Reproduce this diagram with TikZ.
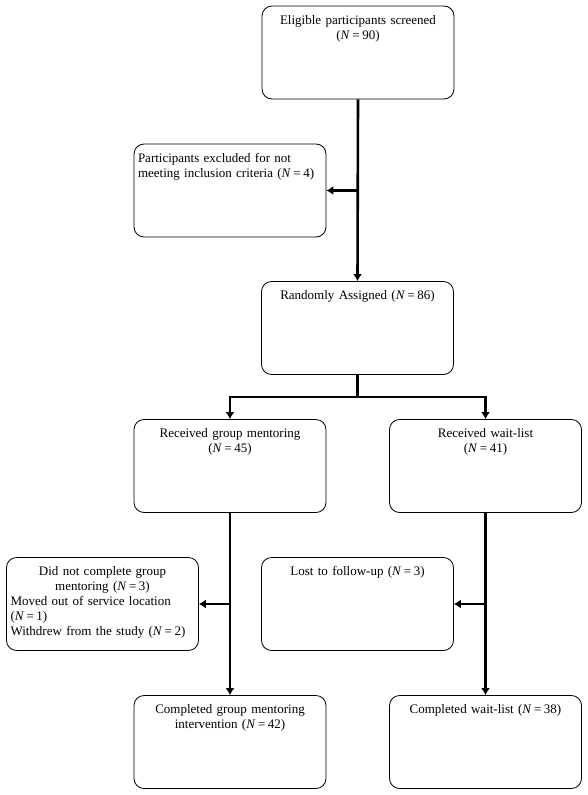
\documentclass[tikz,border=0pt]{standalone}
\usepackage{fontspec}
\setmainfont{Liberation Serif}
\usetikzlibrary{arrows.meta,positioning}

\tikzset{
  flowbox/.style={draw, line width=0.8pt, rounded corners=10pt, minimum width=192pt,
    minimum height=93pt, inner xsep=4pt, inner ysep=5pt, text width=184pt,
    text height=13pt, text depth=70pt, align=center,
    font=\fontsize{13}{15}\selectfont},
  leftbox/.style={flowbox, align=left},
  flow/.style={line width=2.6pt},
  flowarrow/.style={flow, -{Latex[length=7pt,width=9pt]}}
}

\begin{document}
\begin{tikzpicture}[x=1pt, y=-1pt]
\def\cnt#1{(\textit{N}\kern2.5pt=\kern2.5pt#1)}
\useasboundingbox (0,0) rectangle (588,795);

% boxes of the flow
\node [flowbox] (screened) at (358,52.5) {Eligible participants screened\\\cnt{90}};
\node [leftbox] (excluded) at (230,190.5) {Participants excluded for not\\meeting inclusion criteria \cnt{4}};
\node [flowbox] (assigned) at (357.5,328) {Randomly Assigned \cnt{86}};

\node [flowbox] (mentoring) at (230,466) {Received group mentoring\\\cnt{45}};
\node [flowbox] (waitlist) at (485.5,466) {Received wait-list\\\cnt{41}};

\node [leftbox] (dropped) at (102.5,604) {\centering Did not complete group\\mentoring \cnt{3}\par\raggedright
  Moved out of service location\\\cnt{1}\\Withdrew from the study \cnt{2}};
\node [flowbox] (lost) at (357.5,604) {Lost to follow-up \cnt{3}};

\node [flowbox] (donementoring) at (230,742) {Completed group mentoring\\intervention \cnt{42}};
\node [flowbox] (donewait) at (485.5,742) {Completed wait-list \cnt{38}};

% connectors
\draw [flowarrow] (screened.south) -- (assigned.north);
\draw [flowarrow] (screened.south |- excluded.east) -- (excluded.east);

\draw [flowarrow] (assigned.south) -- ++(0,22) -| (mentoring.north);
\draw [flowarrow] (assigned.south) -- ++(0,22) -| (waitlist.north);

\draw [flowarrow] (mentoring.south) -- (donementoring.north);
\draw [flowarrow] (mentoring.south |- dropped.east) -- (dropped.east);

\draw [flowarrow] (waitlist.south) -- (donewait.north);
\draw [flowarrow] (waitlist.south |- lost.east) -- (lost.east);

\end{tikzpicture}
\end{document}
